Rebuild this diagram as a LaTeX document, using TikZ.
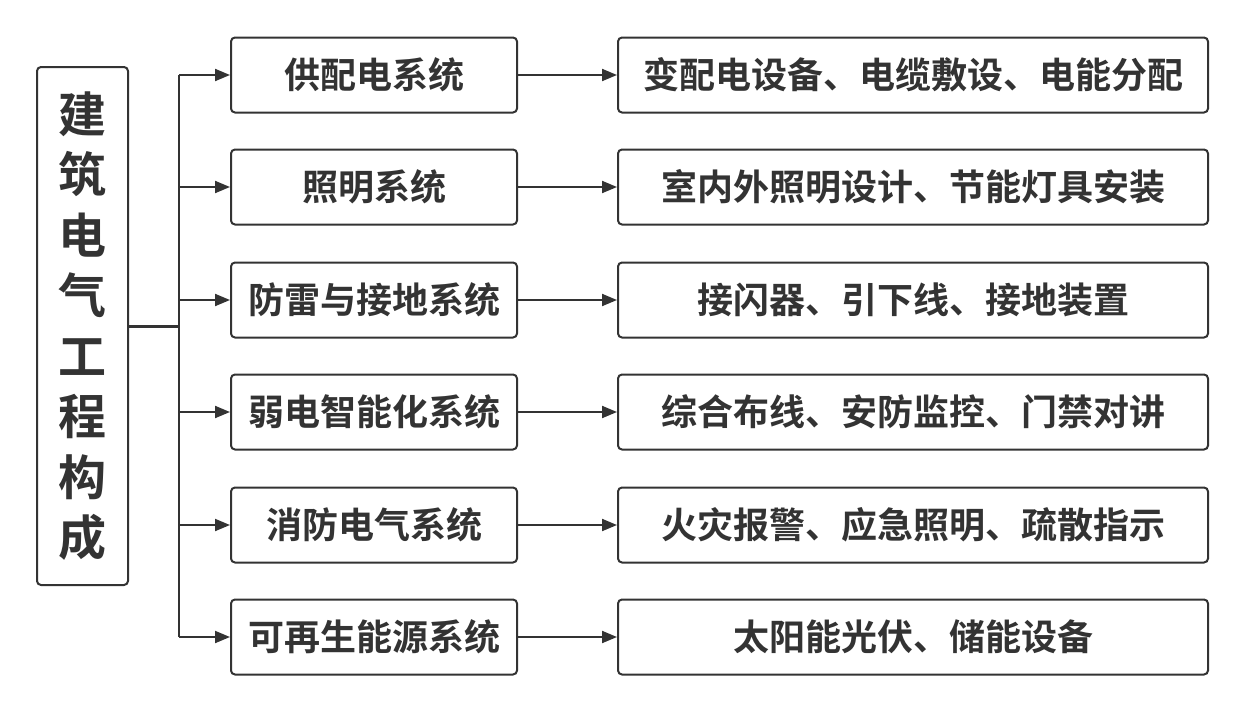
\documentclass[tikz,border=0pt]{standalone}
\usepackage{fontspec}
\newfontfamily\cjk[BoldFont={Noto Sans CJK SC Bold}]{Noto Sans CJK SC}
\usetikzlibrary{arrows.meta}
\definecolor{ink}{HTML}{333333}
\tikzset{
  box/.style={draw=ink, line width=2pt, rounded corners=4pt, fill=white, inner sep=0pt, text=ink, font=\cjk\bfseries\fontsize{36}{42}\selectfont},
  midbox/.style={box, minimum width=286pt, minimum height=75pt},
  rightbox/.style={box, minimum width=590pt, minimum height=75pt},
  conn/.style={draw=ink, line width=2pt, -{Triangle[length=15pt,width=12pt]}},
}
\begin{document}
\begin{tikzpicture}[x=1pt,y=-1pt]
\useasboundingbox (0,0) rectangle (1246,712);
\node[box, minimum width=91pt, minimum height=518pt, align=center, font=\cjk\bfseries\fontsize{48}{60.5}\selectfont] (root) at (82.5,326) {建\\筑\\电\\气\\工\\程\\构\\成};
\coordinate (trunk) at (179,326);
\coordinate (top) at (179,75);
\coordinate (bot) at (179,637);
\node[midbox] (m1) at (374,75) {供配电系统};
\node[midbox] (m2) at (374,187) {照明系统};
\node[midbox] (m3) at (374,300) {防雷与接地系统};
\node[midbox] (m4) at (374,412) {弱电智能化系统};
\node[midbox] (m5) at (374,525) {消防电气系统};
\node[midbox] (m6) at (374,637) {可再生能源系统};
\node[rightbox] (r1) at (913,75) {变配电设备、电缆敷设、电能分配};
\node[rightbox] (r2) at (913,187) {室内外照明设计、节能灯具安装};
\node[rightbox] (r3) at (913,300) {接闪器、引下线、接地装置};
\node[rightbox] (r4) at (913,412) {综合布线、安防监控、门禁对讲};
\node[rightbox] (r5) at (913,525) {火灾报警、应急照明、疏散指示};
\node[rightbox] (r6) at (913,637) {太阳能光伏、储能设备};
\draw[draw=ink, line width=3pt] (root.east) -- (trunk);
\draw[draw=ink, line width=2pt] (top) -- (bot);
\foreach \i in {1,...,6} {
  \coordinate (b\i) at (179,0 |- m\i.west);
  \draw[conn] (b\i |- m\i.west) -- (m\i.west);
  \draw[conn] (m\i.east) -- (r\i.west);
}
\end{tikzpicture}
\end{document}
